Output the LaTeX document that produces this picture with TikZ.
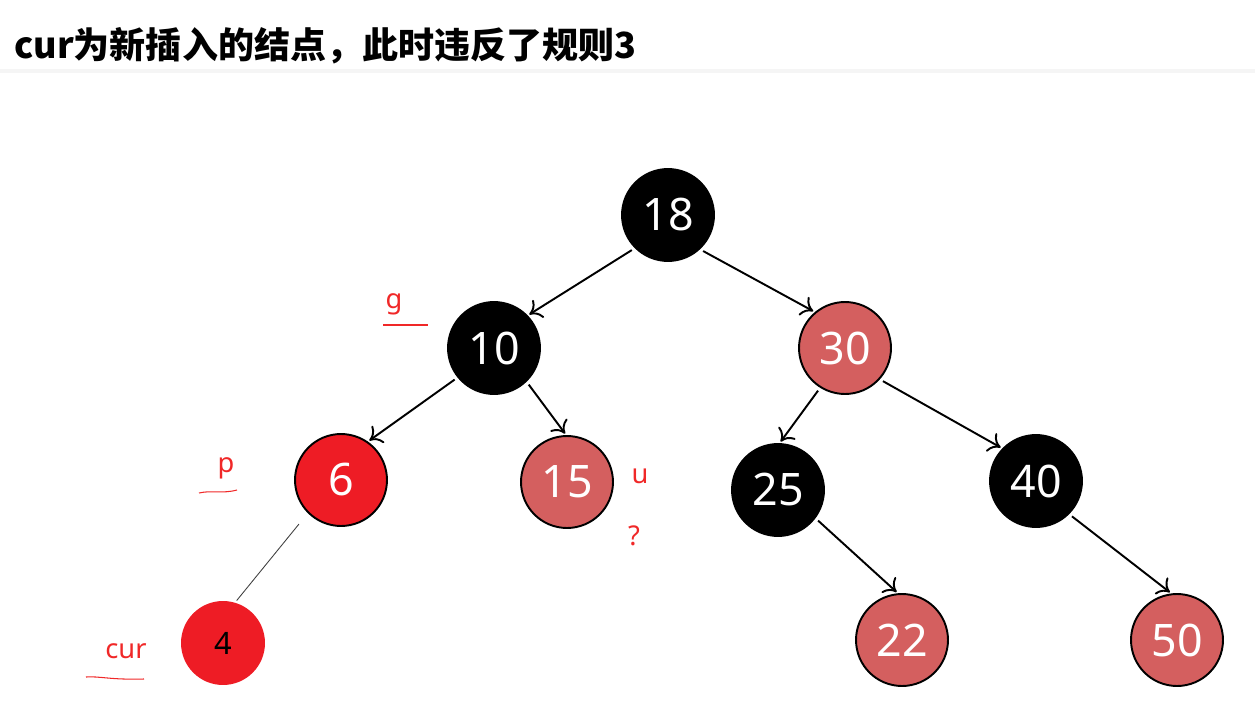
\documentclass[tikz,border=0pt]{standalone}
\usepackage{fontspec}
\setmainfont{Noto Sans}
\newfontfamily\cjk{Noto Sans CJK SC}
\usetikzlibrary{arrows.meta}
\definecolor{rbred}{HTML}{EE1C25}
\definecolor{rbpink}{HTML}{D45F5F}
\definecolor{tagred}{HTML}{F02828}
\begin{document}
\begin{tikzpicture}[x=0.02cm, y=-0.02cm,
  blk/.style={circle, draw=black, fill=black, text=white, line width=1.1pt, minimum size=1.84cm, inner sep=0pt, font=\fontsize{25.5}{26}\selectfont},
  pnk/.style={blk, fill=rbpink},
  hot/.style={blk, fill=rbred},
  edge/.style={-{To[length=6.5pt,width=12pt]}, line width=1.1pt, shorten >=1pt, shorten <=2pt},
  tag/.style={text=tagred, anchor=base, inner sep=0pt, font=\fontsize{15.5}{16}\selectfont}]
\useasboundingbox (0,0) rectangle (1255,710);
\node[anchor=base west, inner sep=0pt, font=\cjk\bfseries\fontsize{20.5}{21}\selectfont] (title) at (14,58) {cur为新插入的结点，此时违反了规则3};
\draw[black!4, line width=2pt] (0,71) -- (1255,71);
\node[blk] (n18) at (668,215) {18};
\node[blk] (n10) at (494,348) {10};
\node[pnk] (n30) at (845,348) {30};
\node[hot] (n6) at (341,480) {6};
\node[pnk] (n15) at (567,482) {15};
\node[blk] (n25) at (778,490) {25};
\node[blk] (n40) at (1036,481) {40};
\node[hot, draw=none, text=black, minimum size=1.68cm, font=\fontsize{17.5}{18}\selectfont] (n4) at (223,643) {4};
\node[pnk] (n22) at (902,640) {22};
\node[pnk] (n50) at (1177,640) {50};
\draw[edge] (n18.225) -- (n10.44);
\draw[edge] (n18.313) -- (n30.130);
\draw[edge] (n10.219) -- (n6.55);
\draw[edge] (n10.314) -- (n15.91);
\draw[edge] (n30.238) -- (n25.88);
\draw[edge] (n30.318) -- (n40.136);
\draw[edge] (n25.323) -- (n22.95);
\draw[edge] (n40.315) -- (n50.97);
\draw[black!75, line width=0.5pt, shorten <=8pt, shorten >=1pt] (n6.225) -- (n4.73);
\node[tag] (g) at (394,308) {g};
\draw[tagred, line width=0.6pt] (383,325) -- (428,325);
\node[tag] (p) at (226,472) {p};
\draw[tagred, line width=0.6pt] (199,493) .. controls (212,490) and (222,494) .. (237,490);
\node[tag] (u) at (640,483) {u};
\node[tag] (q) at (634,545) {?};
\node[tag] (cur) at (126,658) {cur};
\draw[tagred, line width=0.6pt] (86,677) .. controls (100,676) and (110,680) .. (144,679);
\end{tikzpicture}
\end{document}
